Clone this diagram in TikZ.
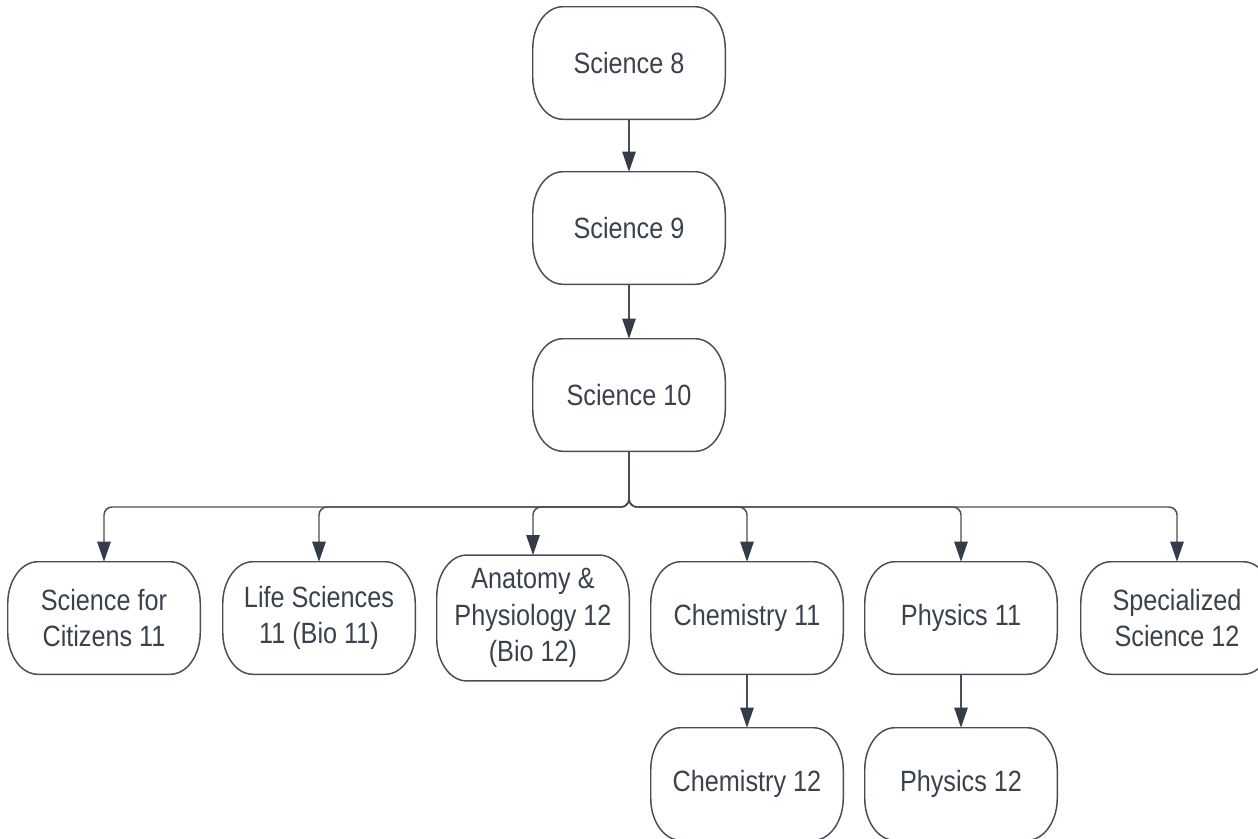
\documentclass[tikz,border=0pt]{standalone}
\usepackage{fontspec}
\setmainfont{Liberation Sans}[FakeStretch=0.86]
\usetikzlibrary{arrows.meta}
\definecolor{linec}{RGB}{72,78,88}
\definecolor{headc}{RGB}{52,60,72}
\definecolor{textc}{RGB}{58,66,76}
\tikzset{
  course/.style={minimum width=144pt, minimum height=84pt, align=center,
    text=textc, inner sep=0pt, font=\fontsize{22}{27.5}\selectfont},
  tall/.style={minimum height=94pt},
  outline/.style={draw=linec, line width=1.1pt},
  conn/.style={draw=linec, line width=1.1pt,
    -{Triangle[length=15pt,width=10pt,color=headc]}},
  bus/.style={conn, rounded corners=6pt}
}
\newcommand\pillshape[1]{%
  \draw[outline] ([xshift=22.5pt]#1.north west) -- ([xshift=-22.5pt]#1.north east)
    arc[start angle=90,end angle=0,x radius=22.5pt,y radius=31.5pt]
    -- ([yshift=31.5pt]#1.south east)
    arc[start angle=0,end angle=-90,x radius=22.5pt,y radius=31.5pt]
    -- ([xshift=22.5pt]#1.south west)
    arc[start angle=-90,end angle=-180,x radius=22.5pt,y radius=31.5pt]
    -- ([yshift=-31.5pt]#1.north west)
    arc[start angle=180,end angle=90,x radius=22.5pt,y radius=31.5pt]
    -- cycle;}
\begin{document}
\begin{tikzpicture}[x=0.75pt,y=-0.75pt]
\useasboundingbox (0,0) rectangle (1258,839);
\clip (0,0) rectangle (1258,839);
\fill[white] (0,0) rectangle (1258,839);
\node[course] (s8) at (629,63) {Science 8};
\node[course] (s9) at (629,228) {Science 9};
\node[course] (s10) at (629,395) {Science 10};
\node[course] (cit) at (104,618) {Science for\\Citizens 11};
\node[course] (life) at (319,618) {Life Sciences\\11 (Bio 11)};
\node[course,tall] (ana) at (533,618) {Anatomy \&\\Physiology 12\\(Bio 12)};
\node[course] (ch11) at (747,618) {Chemistry 11};
\node[course] (ph11) at (961,618) {Physics 11};
\node[course] (spec) at (1177,618) {Specialized\\Science 12};
\node[course] (ch12) at (747,784) {Chemistry 12};
\node[course] (ph12) at (961,784) {Physics 12};
\foreach \n in {s8,s9,s10,cit,life,ana,ch11,ph11,spec,ch12,ph12}
  \pillshape{\n};
\coordinate (j) at (629,507);
\draw[conn] (s8) -- (s9);
\draw[conn] (s9) -- (s10);
\foreach \t in {cit,life,ana,ch11,ph11,spec}
  \draw[bus] (s10.south) -- (j) -| (\t.north);
\draw[conn] (ch11) -- (ch12);
\draw[conn] (ph11) -- (ph12);
\end{tikzpicture}
\end{document}
